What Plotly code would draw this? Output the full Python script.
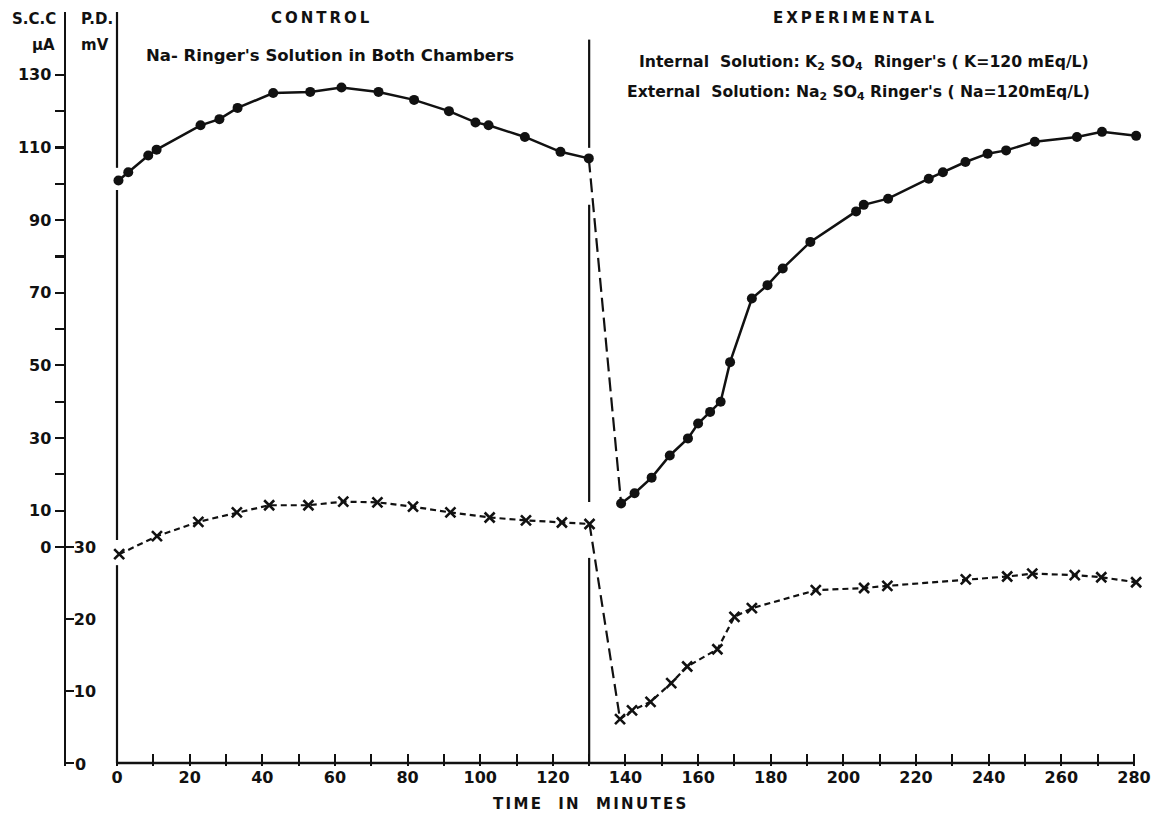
import plotly.graph_objects as go

# ---------------- data ----------------
scc_ctrl_t = [0.4, 3.1, 8.6, 10.9, 23.0, 28.2, 33.2, 43.0, 53.2, 61.8, 72.0, 81.8,
              91.4, 98.7, 102.3, 112.3, 122.1, 129.9]
scc_ctrl = [100.9, 103.2, 107.8, 109.4, 116.1, 117.8, 120.9, 125.0, 125.3, 126.5, 125.3,
            123.1, 120.0, 116.9, 116.1, 112.9, 108.8, 107.0]

scc_exp_t = [138.8, 142.5, 147.2, 152.2, 157.2, 160.0, 163.3, 166.2, 168.8, 174.8, 179.1,
             183.3, 190.9, 203.5, 205.6, 212.3, 223.5, 227.4, 233.6, 239.7, 244.8, 252.7,
             264.3, 271.2, 280.6]
scc_exp = [12.0, 14.8, 19.1, 25.2, 29.9, 34.0, 37.2, 40.0, 50.9, 68.4, 72.1, 76.7, 84.0,
           92.4, 94.2, 95.9, 101.4, 103.2, 106.0, 108.3, 109.2, 111.6, 112.9, 114.3, 113.2]

pd_ctrl_t = [0.6, 11.0, 22.4, 33.0, 41.9, 52.7, 62.3, 71.7, 81.5, 91.8, 102.6, 112.6,
             122.5, 130.1]
pd_ctrl = [29.0, 31.5, 33.5, 34.8, 35.8, 35.8, 36.3, 36.2, 35.6, 34.8, 34.1, 33.7, 33.4, 33.2]

pd_exp_t = [138.5, 141.8, 146.9, 152.6, 157.0, 165.3, 170.0, 174.8, 192.4, 205.7, 212.1,
            233.7, 245.1, 252.0, 263.7, 271.0, 280.6]
pd_exp = [6.1, 7.3, 8.5, 11.1, 13.4, 15.8, 20.3, 21.5, 24.0, 24.3, 24.6, 25.5, 25.9, 26.3,
          26.1, 25.8, 25.1]

time_major = list(range(0, 281, 20))
time_minor = list(range(10, 281, 20))
scc_major = [0, 10, 30, 50, 70, 90, 110, 130]
scc_minor = [20, 40, 60, 80, 100, 120]
pd_major = [10, 20, 30]
pd_minor = [0]                 # its "0" label is written as a separate text

# ---------------- geometry (screen pixels of the 1155x819 page) ----------------
FIG_W, FIG_H = 1155, 819
PLOT_L, PLOT_R, PLOT_T, PLOT_B = 66, 1150, 12, 766
X0_PX, X_PER_MIN = 117, 3.632          # t = 0 position and px per minute
SCC0_PX, SCC_PER_UA = 547, 3.632       # S.C.C. 0 position and px per uA
PD0_PX, PD_PER_MV = 763, 7.2           # P.D. 0 position and px per mV

FONT = "DejaVu Sans"
INK = "#111111"


def px(x):
    return (x - PLOT_L) / (PLOT_R - PLOT_L)


def py(y):
    return (PLOT_B - y) / (PLOT_B - PLOT_T)


fig = go.Figure()

circle = dict(symbol="circle", size=10, color=INK)
cross = dict(symbol="x-thin", size=10, line=dict(color=INK, width=2.6))

fig.add_trace(go.Scatter(x=scc_ctrl_t, y=scc_ctrl, mode="lines+markers", yaxis="y",
                         line=dict(color=INK, width=2.5), marker=circle,
                         cliponaxis=False, showlegend=False))
fig.add_trace(go.Scatter(x=[scc_ctrl_t[-1], scc_exp_t[0]], y=[scc_ctrl[-1], scc_exp[0]],
                         mode="lines", yaxis="y",
                         line=dict(color=INK, width=2.2, dash="14px,6px"),
                         showlegend=False))
fig.add_trace(go.Scatter(x=scc_exp_t, y=scc_exp, mode="lines+markers", yaxis="y",
                         line=dict(color=INK, width=2.5), marker=circle,
                         cliponaxis=False, showlegend=False))

fig.add_trace(go.Scatter(x=pd_ctrl_t, y=pd_ctrl, mode="lines+markers", yaxis="y2",
                         line=dict(color=INK, width=2.2, dash="6px,4px"), marker=cross,
                         cliponaxis=False, showlegend=False))
fig.add_trace(go.Scatter(x=[pd_ctrl_t[-1], pd_exp_t[0]], y=[pd_ctrl[-1], pd_exp[0]],
                         mode="lines", yaxis="y2",
                         line=dict(color=INK, width=2.2, dash="12px,6px"),
                         showlegend=False))
fig.add_trace(go.Scatter(x=pd_exp_t, y=pd_exp, mode="lines+markers", yaxis="y2",
                         line=dict(color=INK, width=2.2, dash="6px,4px"), marker=cross,
                         cliponaxis=False, showlegend=False))

# ---------------- separators / axis base line ----------------
shapes = []
for y0, y1 in [(147.3, 104.4), (98.3, 1.9), (-5.0, -59.5)]:      # t = 0 line
    shapes.append(dict(type="line", xref="x", yref="y", x0=0, x1=0, y0=y0, y1=y1,
                       line=dict(color=INK, width=2.2)))
for y0, y1 in [(139.7, 109.9), (94.2, 12.4), (-3.0, -59.5)]:     # t = 130 line
    shapes.append(dict(type="line", xref="x", yref="y", x0=130, x1=130, y0=y0, y1=y1,
                       line=dict(color=INK, width=2.2)))
shapes.append(dict(type="line", xref="x", yref="y2", x0=0, x1=280, y0=0, y1=0,
                   line=dict(color=INK, width=2.5)))


# ---------------- texts ----------------
def ann(text, x, y, size, spacing=0, bold=True):
    if spacing:
        text = '<span style="letter-spacing:%spx">%s</span>' % (spacing, text)
    return dict(text=text, x=px(x), y=py(y), xref="paper", yref="paper",
                xanchor="center", yanchor="middle", showarrow=False,
                font=dict(family=FONT, size=size, color=INK,
                          weight=700 if bold else 400))


annotations = [
    ann("S.C.C", 34, 19, 15),
    ann("\u03bcA", 43, 45, 15),
    ann("P.D.", 97, 19, 15),
    ann("mV", 95, 45, 15),
    ann("CONTROL", 321, 18, 15, spacing=3),
    ann("Na- Ringer's Solution in Both Chambers", 330, 56, 16.5),
    ann("EXPERIMENTAL", 855, 18, 15, spacing=3),
    ann("Internal  Solution: K<sub>2</sub> SO<sub>4</sub>  Ringer's ( K=120 mEq/L)",
        864, 63, 15.7),
    ann("External  Solution: Na<sub>2</sub> SO<sub>4</sub> Ringer's ( Na=120mEq/L)",
        858, 93, 15.6),
    ann("TIME  IN  MINUTES", 591, 804, 15, spacing=2.3),
    ann("0", 80, 764, 16),
]

tickfont = dict(family=FONT, size=16, color=INK, weight=700)

fig.update_layout(
    width=FIG_W, height=FIG_H,
    margin=dict(l=PLOT_L, r=FIG_W - PLOT_R, t=PLOT_T, b=FIG_H - PLOT_B, pad=0),
    paper_bgcolor="white", plot_bgcolor="white",
    font=dict(family=FONT, color=INK, size=16),
    shapes=shapes,
    annotations=annotations,
    hovermode=False,
    xaxis=dict(range=[(PLOT_L - X0_PX) / X_PER_MIN, (PLOT_R - X0_PX) / X_PER_MIN],
               tickmode="array", tickvals=time_major,
               ticks="inside", ticklen=12, tickwidth=2, tickcolor=INK,
               minor=dict(tickmode="array", tickvals=time_minor, ticks="inside",
                          ticklen=12, tickwidth=2, tickcolor=INK, showgrid=False),
               showline=False, showgrid=False, zeroline=False, tickfont=tickfont),
    yaxis=dict(range=[(SCC0_PX - PLOT_B) / SCC_PER_UA, (SCC0_PX - PLOT_T) / SCC_PER_UA],
               tickmode="array", tickvals=scc_major,
               ticks="outside", ticklen=9, tickwidth=2.2, tickcolor=INK,
               minor=dict(tickmode="array", tickvals=scc_minor, ticks="outside",
                          ticklen=9, tickwidth=2.2, tickcolor=INK, showgrid=False),
               showline=True, linewidth=2.5, linecolor=INK,
               showgrid=False, zeroline=False, tickfont=tickfont),
    yaxis2=dict(range=[(PD0_PX - PLOT_B) / PD_PER_MV, (PD0_PX - PLOT_T) / PD_PER_MV],
                overlaying="y", side="left", anchor="x",
                tickmode="array", tickvals=pd_major,
                ticks="inside", ticklen=8, tickwidth=2.2, tickcolor=INK,
                minor=dict(tickmode="array", tickvals=pd_minor, ticks="inside",
                           ticklen=8, tickwidth=2.2, tickcolor=INK, showgrid=False),
                ticklabelposition="inside",
                showline=False, showgrid=False, zeroline=False, tickfont=tickfont),
)

# place the figure at the page's top-left corner (no default body margin)
fig.write_html("out.html",
               config={"displayModeBar": False, "staticPlot": True},
               post_script="document.body.style.margin='0';"
                           "document.body.style.overflow='hidden';")
